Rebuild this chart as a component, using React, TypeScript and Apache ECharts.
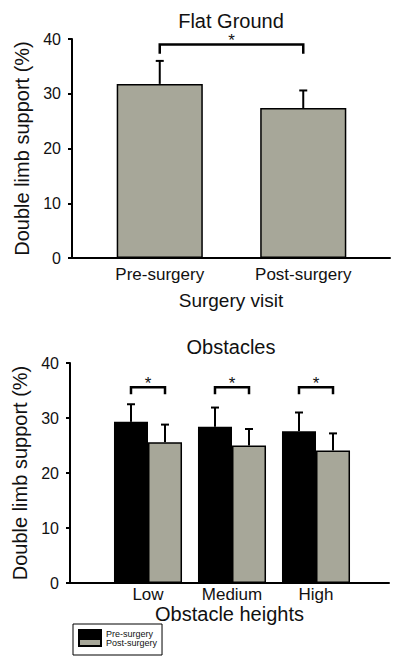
import React, { useEffect, useRef } from 'react';
import * as echarts from 'echarts';

// ---- Data ----
const flatCategories = ['Pre-surgery', 'Post-surgery'];
const flatMeans = [31.8, 27.4];
const flatSD = [4.2, 3.2];
const flatBracketTop = 39.0;
const flatBracketLeg = 37.3;

const obstacleCategories = ['Low', 'Medium', 'High'];
const seriesNames = ['Pre-surgery', 'Post-surgery'];
const preMeans = [29.3, 28.4, 27.6];
const preSD = [3.2, 3.5, 3.4];
const postMeans = [25.6, 25.0, 24.1];
const postSD = [3.2, 3.0, 3.1];
const obstacleBracketTop = [35.6, 35.6, 35.6];
const obstacleBracketLeg = [34.3, 34.3, 34.3];

const yMin = 0;
const yMax = 40;
const yInterval = 10;

const FONT = 'Liberation Sans, Arial, Helvetica, sans-serif';
const GRAY = '#A7A799';
const INK = '#111';

const obsCatGap = 0.19; // barCategoryGap fraction
const obsOffset = (1 - obsCatGap) / 4; // centre offset of each bar, as fraction of band

function errorBarRender(frac: number) {
  return (params: any, api: any) => {
    const cat = api.value(0);
    const mean = api.value(1);
    const sd = api.value(2);
    const band = api.size([1, 0])[0];
    const base = api.coord([cat, mean]);
    const top = api.coord([cat, mean + sd]);
    const x = base[0] + frac * band;
    const st = { stroke: '#000', lineWidth: 2 };
    return {
      type: 'group',
      children: [
        { type: 'line', shape: { x1: x, y1: base[1], x2: x, y2: top[1] }, style: st },
        { type: 'line', shape: { x1: x - 4, y1: top[1], x2: x + 4, y2: top[1] }, style: st },
      ],
    };
  };
}

function bracketRender(fracL: number, fracR: number, catSpan: number) {
  return (params: any, api: any) => {
    const cat = api.value(0);
    const topLv = api.value(1);
    const legLv = api.value(2);
    const band = api.size([1, 0])[0];
    const pTop = api.coord([cat, topLv]);
    const pLeg = api.coord([cat, legLv]);
    const xl = pTop[0] + fracL * band;
    const xr = pTop[0] + (catSpan + fracR) * band;
    const st = { stroke: '#000', lineWidth: 2.5, fill: null };
    return {
      type: 'group',
      children: [
        {
          type: 'polyline',
          shape: { points: [[xl, pLeg[1]], [xl, pTop[1]], [xr, pTop[1]], [xr, pLeg[1]]] },
          style: st,
        },
        {
          type: 'text',
          x: (xl + xr) / 2,
          y: pTop[1] - 4,
          style: { text: '*', fontSize: 17, fontFamily: FONT, fill: INK, align: 'center', verticalAlign: 'middle' },
        },
      ],
    };
  };
}

export default function App() {
  const ref = useRef<HTMLDivElement>(null);
  useEffect(() => {
    if (!ref.current) return;
    const chart = echarts.init(ref.current, null, { renderer: 'svg' });

    const outerY = (gridIndex: number) => ({
      type: 'value',
      gridIndex,
      min: yMin,
      max: yMax,
      interval: yInterval,
      name: 'Double limb support (%)',
      nameLocation: 'middle',
      nameGap: 35,
      nameTextStyle: { fontSize: 20, color: INK, fontFamily: FONT },
      axisLine: { show: true, lineStyle: { color: '#000', width: 2 } },
      axisTick: { show: true, inside: false, length: 4, lineStyle: { color: '#000', width: 2 } },
      axisLabel: { fontSize: 16, color: INK, margin: 11, fontFamily: FONT },
      splitLine: { show: false },
    });
    const innerY = (gridIndex: number) => ({
      type: 'value',
      gridIndex,
      min: yMin,
      max: yMax,
      interval: yInterval,
      show: false,
      splitLine: { show: false },
    });
    const outerX = (gridIndex: number, name: string, nameGap: number, size: number) => ({
      type: 'value',
      gridIndex,
      min: 0,
      max: 1,
      name,
      nameLocation: 'middle',
      nameGap,
      nameTextStyle: { fontSize: size, color: INK, fontFamily: FONT },
      axisLine: { show: true, lineStyle: { color: '#000', width: 2 } },
      axisTick: { show: false },
      axisLabel: { show: false },
      splitLine: { show: false },
    });
    const innerX = (gridIndex: number, data: string[], margin: number) => ({
      type: 'category',
      gridIndex,
      data,
      axisLine: { show: false },
      axisTick: { show: false },
      axisLabel: { fontSize: 17, color: INK, margin, fontFamily: FONT },
      splitLine: { show: false },
    });

    const option: any = {
      animation: false,
      textStyle: { fontFamily: FONT },
      title: [
        {
          text: 'Flat Ground',
          left: 231,
          top: 11,
          padding: 0,
          textAlign: 'center',
          textStyle: { fontSize: 20, fontWeight: 'normal', color: INK, fontFamily: FONT },
        },
        {
          text: 'Obstacles',
          left: 231,
          top: 337,
          padding: 0,
          textAlign: 'center',
          textStyle: { fontSize: 20, fontWeight: 'normal', color: INK, fontFamily: FONT },
        },
      ],
      legend: {
        data: seriesNames,
        orient: 'vertical',
        left: 73,
        top: 624,
        padding: [5, 5, 8, 5],
        itemGap: 0,
        itemWidth: 22,
        itemHeight: 7,
        icon: 'rect',
        selectedMode: false,
        borderColor: '#000',
        borderWidth: 1,
        textStyle: { fontSize: 9, color: INK, fontFamily: FONT },
      },
      grid: [
        { left: 72, width: 318, top: 39, height: 219 },
        { left: 88, width: 287, top: 39, height: 219 },
        { left: 70, width: 319, top: 363, height: 220 },
        { left: 106, width: 252, top: 363, height: 220 },
      ],
      xAxis: [
        outerX(0, 'Surgery visit', 33, 19),
        innerX(1, flatCategories, 8),
        outerX(2, 'Obstacle heights', 21, 20),
        innerX(3, obstacleCategories, 3),
      ],
      yAxis: [outerY(0), innerY(1), outerY(2), innerY(3)],
      series: [
        {
          name: 'Flat',
          type: 'bar',
          xAxisIndex: 1,
          yAxisIndex: 1,
          data: flatMeans,
          barCategoryGap: '40%',
          itemStyle: { color: GRAY, borderColor: '#000', borderWidth: 1.5 },
        },
        {
          name: 'FlatErr',
          type: 'custom',
          xAxisIndex: 1,
          yAxisIndex: 1,
          z: 5,
          renderItem: errorBarRender(0),
          data: flatMeans.map((m, i) => [i, m, flatSD[i]]),
          encode: { x: 0, y: 1 },
        },
        {
          name: 'FlatBracket',
          type: 'custom',
          xAxisIndex: 1,
          yAxisIndex: 1,
          z: 5,
          renderItem: bracketRender(0, 0, 1),
          data: [[0, flatBracketTop, flatBracketLeg]],
          encode: { x: 0, y: [1, 2] },
        },
        {
          name: seriesNames[0],
          type: 'bar',
          xAxisIndex: 3,
          yAxisIndex: 3,
          data: preMeans,
          barGap: '0%',
          barCategoryGap: obsCatGap * 100 + '%',
          itemStyle: { color: '#000', borderColor: '#000', borderWidth: 1.5 },
        },
        {
          name: seriesNames[1],
          type: 'bar',
          xAxisIndex: 3,
          yAxisIndex: 3,
          data: postMeans,
          barGap: '0%',
          barCategoryGap: obsCatGap * 100 + '%',
          itemStyle: { color: GRAY, borderColor: '#000', borderWidth: 1.5 },
        },
        {
          name: 'PreErr',
          type: 'custom',
          xAxisIndex: 3,
          yAxisIndex: 3,
          z: 5,
          renderItem: errorBarRender(-obsOffset),
          data: preMeans.map((m, i) => [i, m, preSD[i]]),
          encode: { x: 0, y: 1 },
        },
        {
          name: 'PostErr',
          type: 'custom',
          xAxisIndex: 3,
          yAxisIndex: 3,
          z: 5,
          renderItem: errorBarRender(obsOffset),
          data: postMeans.map((m, i) => [i, m, postSD[i]]),
          encode: { x: 0, y: 1 },
        },
        {
          name: 'ObsBracket',
          type: 'custom',
          xAxisIndex: 3,
          yAxisIndex: 3,
          z: 5,
          renderItem: bracketRender(-obsOffset, obsOffset, 0),
          data: obstacleCategories.map((c, i) => [i, obstacleBracketTop[i], obstacleBracketLeg[i]]),
          encode: { x: 0, y: [1, 2] },
        },
      ],
    };
    chart.setOption(option);
    return () => chart.dispose();
  }, []);

  return (
    <div
      ref={ref}
      style={{ position: 'absolute', left: 0, top: 0, width: 400, height: 669, background: '#fff' }}
    />
  );
}
